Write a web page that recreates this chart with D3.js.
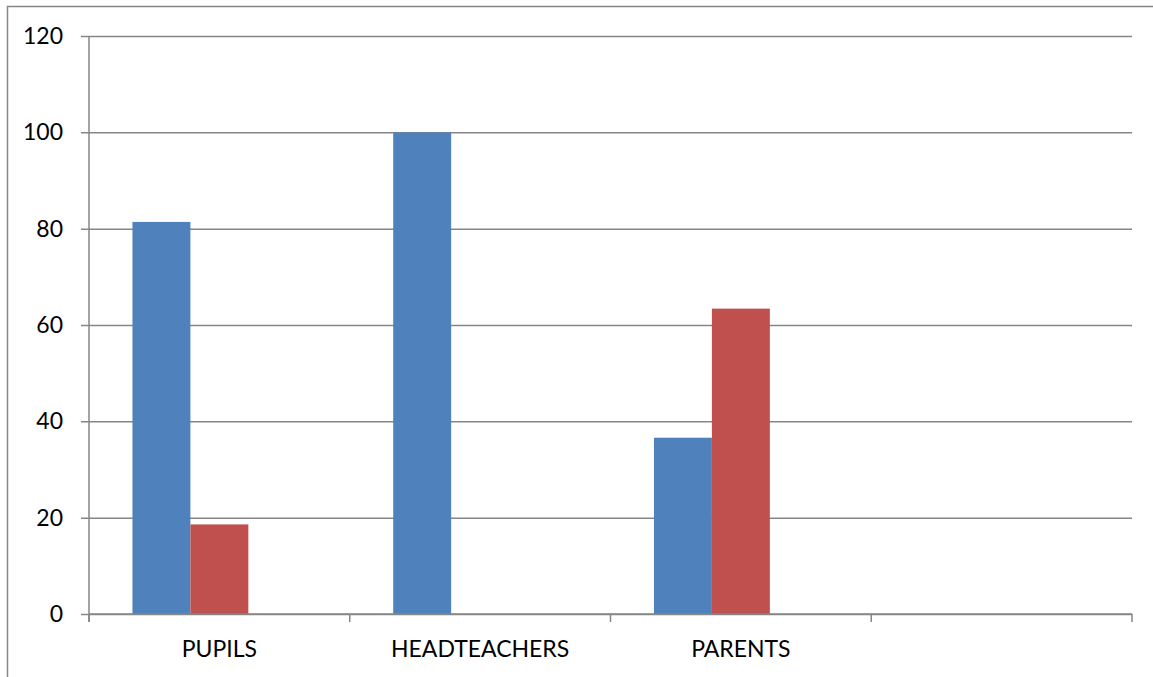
<!DOCTYPE html>
<html>
<head>
<meta charset="utf-8">
<script src="https://cdn.jsdelivr.net/npm/d3@7"></script>
<style>
  html, body { margin: 0; padding: 0; background: #fff; }
  svg { display: block; }
  text { font-family: Lato, "Open Sans", sans-serif; fill: #000; }
</style>
</head>
<body>
<svg id="chart" width="1153" height="677"></svg>
<script>
// Categories along the x axis (the last slot is left empty)
const categories = ["PUPILS", "HEADTEACHERS", "PARENTS", ""];
// Series values (percent)
const series1 = [81.4, 100, 36.6, null];
const series2 = [18.6, 0, 63.4, null];
const series3 = [null, null, null, null];
const seriesNames = ["Series 1", "Series 2", "Series 3"];
const seriesColors = ["#4F81BD", "#C0504D", "#9BBB59"];
const yTicks = [0, 20, 40, 60, 80, 100, 120];

const allSeries = [series1, series2, series3];

const svg = d3.select("#chart");
const plot = { left: 89, right: 1132, top: 36, bottom: 614 };
const gridColor = "#868686";
const lineW = 1.5;
const fontSize = "23px";

// Outer chart frame
svg.append("rect")
  .attr("x", 7.5).attr("y", 6.5)
  .attr("width", 1200).attr("height", 700)
  .attr("fill", "none").attr("stroke", gridColor).attr("stroke-width", lineW);

const y = d3.scaleLinear().domain([0, 120]).range([plot.bottom, plot.top]);
const x0 = d3.scaleBand().domain(categories.map((c, i) => i))
  .range([plot.left, plot.right]).paddingInner(0).paddingOuter(0);
const x1 = d3.scaleBand().domain(seriesNames)
  .range([0, x0.bandwidth()]).paddingInner(0).paddingOuter(0.75);

// Horizontal gridlines with left ticks
const yAxis = d3.axisLeft(y).tickValues(yTicks)
  .tickSize(-(plot.right - plot.left)).tickPadding(18).tickFormat(d3.format("d"));
const gy = svg.append("g").attr("transform", `translate(${plot.left},0)`).call(yAxis);
gy.select(".domain").remove();
gy.selectAll(".tick line")
  .attr("x1", -8)
  .attr("stroke", gridColor).attr("stroke-width", lineW);
gy.selectAll(".tick text")
  .attr("x", -26)
  .style("font-size", fontSize).style("font-family", "Lato, 'Open Sans', sans-serif")
  .attr("fill", "#000");

// Bars
allSeries.forEach((vals, si) => {
  svg.append("g").selectAll("rect")
    .data(vals.map((v, i) => ({ v, i })).filter(d => d.v != null && d.v > 0))
    .join("rect")
    .attr("x", d => x0(d.i) + x1(seriesNames[si]))
    .attr("width", x1.bandwidth())
    .attr("y", d => y(d.v))
    .attr("height", d => y(0) - y(d.v))
    .attr("fill", seriesColors[si]);
});

// Y axis line
svg.append("line")
  .attr("x1", plot.left).attr("x2", plot.left)
  .attr("y1", plot.top).attr("y2", plot.bottom + 8)
  .attr("stroke", gridColor).attr("stroke-width", lineW);

// X axis line and category boundary ticks
svg.append("line")
  .attr("x1", plot.left).attr("x2", plot.right)
  .attr("y1", plot.bottom).attr("y2", plot.bottom)
  .attr("stroke", gridColor).attr("stroke-width", lineW);
const bounds = categories.map((c, i) => x0(i)).concat([plot.right]);
svg.append("g").selectAll("line").data(bounds).join("line")
  .attr("x1", d => d).attr("x2", d => d)
  .attr("y1", plot.bottom).attr("y2", plot.bottom + 8)
  .attr("stroke", gridColor).attr("stroke-width", lineW);

// Category labels
svg.append("g").selectAll("text").data(categories).join("text")
  .attr("x", (d, i) => x0(i) + x0.bandwidth() / 2)
  .attr("y", 657)
  .attr("text-anchor", "middle")
  .style("font-size", fontSize)
  .text(d => d);
</script>
</body>
</html>
